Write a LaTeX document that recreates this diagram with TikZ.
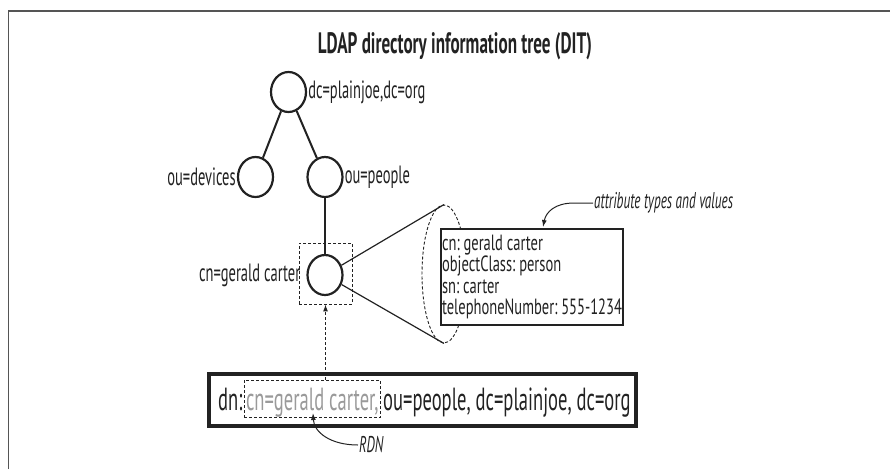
\documentclass[tikz,border=0pt]{standalone}
\usepackage{fontspec}
\setmainfont{PT Sans}[FakeStretch=0.58]
\newfontfamily\attrfont{PT Sans}[FakeStretch=0.66]
\usetikzlibrary{arrows.meta,shapes.geometric}
\frenchspacing
\definecolor{ink}{HTML}{222222}
\definecolor{framegray}{HTML}{555555}
\definecolor{rdngray}{HTML}{9A9A9A}
\newcommand{\lblsize}{\fontsize{25}{27}\selectfont}
\newcommand{\attrsize}{\attrfont\fontsize{22}{21.4}\selectfont}
\newcommand{\notesize}{\fontsize{22.8}{24}\selectfont\itshape}
\newcommand{\titlesize}{\fontsize{29.5}{31}\selectfont\bfseries}
\newcommand{\dnsize}{\fontsize{32}{34}\selectfont}

\begin{document}
\begin{tikzpicture}[x=1pt,y=-1pt,
  every node/.style={text=ink},
  treenode/.style={ellipse, draw=ink, line width=2.2pt, minimum width=35pt,
    minimum height=40pt, inner sep=0pt},
  treeedge/.style={draw=ink, line width=2pt},
  lbl/.style={font=\lblsize, inner sep=1pt},
  note/.style={font=\notesize, inner sep=1pt},
  thinline/.style={draw=ink, line width=1.2pt},
  dashbox/.style={draw=ink, line width=0.9pt, dash pattern=on 3pt off 2pt},
  pointer/.style={draw=ink, line width=1pt, -{Latex[length=7pt,width=5pt]}},
]
\useasboundingbox (0,0) rectangle (890,469);

% page frame (top and left rules)
\draw[framegray, line width=1.6pt] (8.5,469) -- (8.5,11) -- (890,11);

% title
\node[font=\titlesize] (title) at (455,46) {LDAP directory information tree (DIT)};

% directory tree
\node[treenode] (root) at (288.5,92) {};
\node[treenode] (dev)  at (255.5,177) {};
\node[treenode] (ppl)  at (325,177) {};
\node[treenode] (cn)   at (325,275) {};

\draw[treeedge] (root) -- (dev);
\draw[treeedge] (root) -- (ppl);
\draw[treeedge] (ppl) -- (cn);

\node[lbl, anchor=west] (rootlbl) at (root.east) {dc=plainjoe,dc=org};
\node[lbl, anchor=east] (devlbl)  at (dev.west)  {ou=devices};
\node[lbl, anchor=west] (ppllbl)  at (ppl.east)  {ou=people};
\node[lbl, anchor=east, xshift=-5pt] (cnlbl) at (cn.west) {cn=gerald carter};

% dashed frame marking the entry
\node[dashbox, minimum width=53pt, minimum height=61pt] (cnbox) at (325.5,273.5) {};

% entry expanded into its attributes
\node[ellipse, dashbox, minimum width=44pt, minimum height=138pt] (lens) at (444,274) {};
\draw[thinline] (cn) -- (lens.north);
\draw[thinline] (cn) -- (lens.south);

\node[draw=ink, line width=1.2pt, fill=white, minimum height=96pt,
  minimum width=182pt, inner sep=1pt, align=left, font=\attrsize]
  (attrs) at (532,277)
  {cn: gerald carter\\objectClass: person\\sn: carter\\telephoneNumber: 555-1234};

\node[note, anchor=west] (attrlbl) at (593,203) {attribute types and values};
\coordinate (attrtip) at (543,227);
\draw[pointer] (attrlbl.west) -- ++(-19,0) .. controls (555,203) and (546,212) .. (attrtip);

% distinguished name
\node[font=\dnsize, anchor=base west, inner xsep=1pt] (dn) at (217,410) {dn:};
\node[font=\dnsize, anchor=base west, dashbox, text=rdngray, inner xsep=2pt,
  inner ysep=2pt, text height=28pt, text depth=5pt] (rdn) at (dn.base east) {cn=gerald carter,};
\node[font=\dnsize, anchor=base west, inner xsep=2pt] (rest) at (rdn.base east) {ou=people, dc=plainjoe, dc=org};
\node[draw=ink, line width=4pt, minimum width=427pt, minimum height=52pt] (dnbox) at (422.5,400) {};

\draw[pointer, dash pattern=on 3pt off 2pt] (rdn.north -| cnbox) -- (cnbox.south);

% relative distinguished name callout
\node[note, anchor=west] (rdnlbl) at (358,445) {RDN};
\coordinate (rdntip) at (313,413);
\draw[pointer] (rdnlbl.west) .. controls (330,445) and (314,432) .. (rdntip);
\end{tikzpicture}
\end{document}
